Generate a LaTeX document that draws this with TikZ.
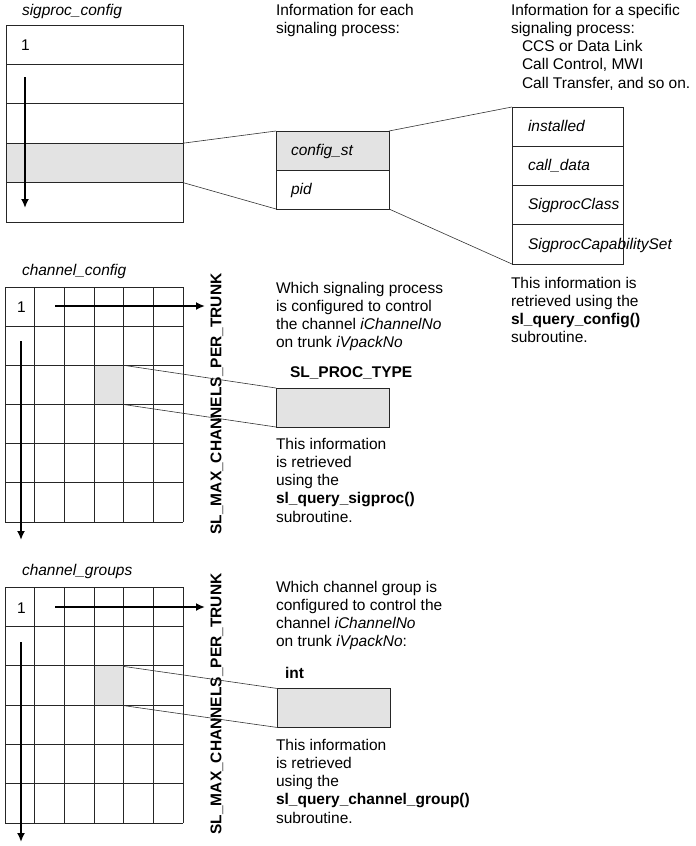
\documentclass[tikz,border=0pt]{standalone}
\usepackage{fontspec}
\setmainfont{Liberation Sans}
\usetikzlibrary{arrows.meta}
\newcommand\mlines[1]{\begin{tabular}[t]{@{}l@{}}#1\end{tabular}}
\begin{document}
\begin{tikzpicture}[x=1pt,y=-1pt,
  every node/.style={font=\fontsize{15.5}{18.3}\selectfont, inner sep=0pt, outer sep=0pt},
  ital/.style={font=\fontsize{15.5}{18.3}\selectfont\itshape},
  bld/.style={font=\fontsize{15.5}{18.3}\selectfont\bfseries},
  frame/.style={draw=black!85, line width=0.8pt},
  shade/.style={fill=black!11},
  spcell/.style={frame, minimum width=177pt, minimum height=39.4pt},
  mcell/.style={frame, minimum width=113pt, minimum height=39pt},
  rcell/.style={frame, minimum width=111pt, minimum height=39.25pt},
  gcell/.style={shade, minimum width=29.67pt, minimum height=39.2pt},
  valbox/.style={frame, shade, minimum width=113pt, minimum height=39pt},
  gridl/.style={draw=black!85, line width=0.8pt},
  link/.style={draw=black!80, line width=0.6pt},
  arr/.style={line width=2pt, -{Latex[length=9pt,width=8pt]}},
  txt/.style={anchor=base west, align=left}
]
\useasboundingbox (0,0) rectangle (696,846);

% ---------- sigproc_config ----------
\node[txt, ital] (t1) at (22,15) {sigproc\_config};
\node[spcell] (sp1) at (94.5,44.7) {};
\node[spcell] (sp2) at (94.5,84.1) {};
\node[spcell] (sp3) at (94.5,123.5) {};
\node[spcell, shade] (sp4) at (94.5,162.9) {};
\node[spcell] (sp5) at (94.5,202.3) {};
\node[txt] (one1) at (21,50) {1};
\coordinate (a1s) at (25,77);
\coordinate (a1e) at (25,208);
\draw[arr] (a1s) -- (a1e);

\node[txt] (h1) at (276,15) {\mlines{Information for each\\signaling process:}};
\node[mcell, shade] (mb1) at (332.5,150.5) {};
\node[mcell] (mb2) at (332.5,189.5) {};
\node[txt, ital] (l1) at (291,155) {config\_st};
\node[txt, ital] (l2) at (291,194) {pid};

\node[txt] (h2) at (511,15) {\mlines{Information for a specific\\signaling process:\\\hspace{11pt}CCS or Data Link\\\hspace{11pt}Call Control, MWI\\\hspace{11pt}Call Transfer, and so on.}};
\node[rcell] (rb1) at (567.5,126.6) {};
\node[rcell] (rb2) at (567.5,165.9) {};
\node[rcell] (rb3) at (567.5,205.1) {};
\node[rcell] (rb4) at (567.5,244.4) {};
\node[txt, ital] (r1) at (528,131) {installed};
\node[txt, ital] (r2) at (528,170) {call\_data};
\node[txt, ital] (r3) at (528,209.5) {SigprocClass};
\node[txt, ital] (r4) at (528,249) {SigprocCapabilitySet};
\node[txt] (h3) at (511,288) {\mlines{This information is\\retrieved using the\\\textbf{sl\_query\_config()}\\subroutine.}};

\draw[link] (sp4.north east) -- (mb1.north west);
\draw[link] (sp4.south east) -- (mb2.south west);
\draw[link] (mb1.north east) -- (rb1.north west);
\draw[link] (mb2.south east) -- (rb4.south west);

% ---------- channel_config ----------
\node[txt, ital] (t2) at (22,275) {channel\_config};
\node[gcell] (g1) at (108.8,384.9) {};
\foreach \c in {0,...,6} \draw[gridl] ({5+29.667*\c},287) -- ({5+29.667*\c},522);
\foreach \r in {0,...,6} \draw[gridl] (5,{287+39.17*\r}) -- (183,{287+39.17*\r});
\node[txt] (one2) at (17,312) {1};
\coordinate (a2s) at (55,306);
\coordinate (a2e) at (205,306);
\draw[arr] (a2s) -- (a2e);
\coordinate (a3s) at (21,341);
\coordinate (a3e) at (21,540);
\draw[arr] (a3s) -- (a3e);
\node[bld, rotate=90] (m1) at (217,404) {SL\_MAX\_CHANNELS\_PER\_TRUNK};

\node[txt] (h4) at (276,293) {\mlines{Which signaling process\\is configured to control\\the channel \textit{iChannelNo}\\on trunk \textit{iVpackNo}}};
\node[txt, bld] (ty1) at (290,377) {SL\_PROC\_TYPE};
\node[valbox] (v1) at (332.5,407.5) {};
\node[txt] (h5) at (276,449) {\mlines{This information\\is retrieved\\using the\\\textbf{sl\_query\_sigproc()}\\subroutine.}};
\draw[link] (g1.north east) -- (v1.north west);
\draw[link] (g1.south east) -- (v1.south west);

% ---------- channel_groups ----------
\node[txt, ital] (t3) at (22,575) {channel\_groups};
\node[gcell] (g2) at (108.8,686) {};
\foreach \c in {0,...,6} \draw[gridl] ({5+29.667*\c},587) -- ({5+29.667*\c},823);
\foreach \r in {0,...,6} \draw[gridl] (5,{587+39.33*\r}) -- (183,{587+39.33*\r});
\node[txt] (one3) at (17,613) {1};
\coordinate (a4s) at (55,607);
\coordinate (a4e) at (205,607);
\draw[arr] (a4s) -- (a4e);
\coordinate (a5s) at (21,642);
\coordinate (a5e) at (21,842);
\draw[arr] (a5s) -- (a5e);
\node[bld, rotate=90] (m2) at (217,704) {SL\_MAX\_CHANNELS\_PER\_TRUNK};

\node[txt] (h6) at (276,592) {\mlines{Which channel group is\\configured to control the\\channel \textit{iChannelNo}\\on trunk \textit{iVpackNo}:}};
\node[txt, bld] (ty2) at (285,678) {int};
\node[valbox] (v2) at (334,708) {};
\node[txt] (h7) at (276,750) {\mlines{This information\\is retrieved\\using the\\\textbf{sl\_query\_channel\_group()}\\subroutine.}};
\draw[link] (g2.north east) -- (v2.north west);
\draw[link] (g2.south east) -- (v2.south west);
\end{tikzpicture}
\end{document}
